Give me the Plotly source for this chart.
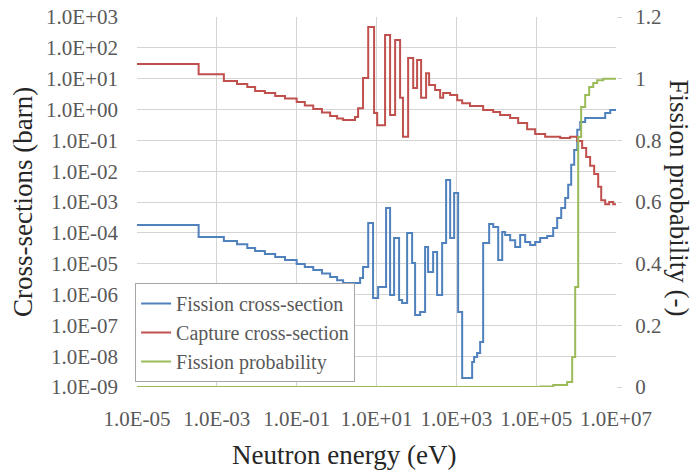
import plotly.graph_objects as go

# ---------------- data ----------------
x_tick_vals = [1e-5, 1e-3, 1e-1, 1e1, 1e3, 1e5, 1e7]
x_tick_text = ["1.0E-05", "1.0E-03", "1.0E-01", "1.0E+01", "1.0E+03", "1.0E+05", "1.0E+07"]
y_tick_exps = list(range(-9, 4))
y_tick_vals = [10.0 ** e for e in y_tick_exps]
y_tick_text = [f"1.0E{e:+03d}" for e in y_tick_exps]
y2_tick_vals = [0, 0.2, 0.4, 0.6, 0.8, 1.0, 1.2]
y2_tick_text = ["0", "0.2", "0.4", "0.6", "0.8", "1", "1.2"]

# group boundaries (eV) and group values
capture_edges = [1e-5, 3.5e-4, 1.5e-3, 3.2e-3, 5.8e-3, 9.1e-3, 1.6e-2, 2.9e-2, 5.1e-2, 0.1,
                 0.16, 0.26, 0.43, 0.69, 1.03, 1.46, 2.9, 3.46, 4.6, 6.2,
                 8.7, 10.4, 16.4, 21.9, 29.3, 39, 46, 62, 83, 104,
                 131, 175, 208, 294, 393, 467, 700, 1050, 1400, 2200,
                 4700, 8400, 12500, 22300, 35400, 59400, 94400, 1.68e5, 4.0e5, 7.1e5,
                 1.07e6, 1.42e6, 1.79e6, 2.25e6, 2.84e6, 3.58e6, 4.26e6, 5.36e6, 6.76e6, 8.5e6, 1e7]
capture_xs = [30, 14, 8.4, 6.7, 5.4, 4.0, 3.43, 2.74, 2.27, 1.75,
              1.35, 1.04, 0.80, 0.615, 0.51, 0.46, 0.57, 1.1, 10.5, 474,
              0.77, 0.31, 260, 0.66, 180, 2.4, 0.13, 47, 5.0, 40,
              2.4, 15, 6.2, 4.3, 2.4, 3.4, 2.95, 2.0, 1.6, 1.3,
              0.96, 0.83, 0.66, 0.53, 0.365, 0.23, 0.16, 0.13, 0.12, 0.13,
              0.095, 0.056, 0.029, 0.015, 0.0081, 0.0031, 0.00115, 0.00085, 0.001, 0.00085]

fission_edges = [1e-5, 3.5e-4, 1.5e-3, 3.2e-3, 5.8e-3, 9.1e-3, 1.6e-2, 2.9e-2, 5.1e-2, 0.1,
                 0.16, 0.26, 0.43, 0.69, 1.03, 1.46, 3.88, 4.6, 6.2, 8.2,
                 11.0, 17.4, 21.9, 27.6, 36.8, 43.8, 58.5, 78, 92.7, 124,
                 165, 196, 262, 330, 441, 555, 700, 881, 1110, 1400,
                 2490, 2790, 3320, 3950, 4700, 6640, 8400, 11200, 14100, 16700,
                 22300, 29800, 39700, 53000, 70800, 94400, 1.26e5, 1.89e5, 2.67e5, 3.36e5,
                 4.24e5, 5.33e5, 6.34e5, 7.54e5, 8.96e5, 1.07e6, 1.27e6, 1.69e6, 5.36e6, 7.16e6, 1e7]
fission_xs = [1.8e-4, 7.3e-5, 5.4e-5, 4.3e-5, 3.2e-5, 2.57e-5, 2.06e-5, 1.64e-5, 1.31e-5, 9.7e-6,
              7.8e-6, 6.2e-6, 4.8e-6, 3.7e-6, 2.9e-6, 2.35e-6, 3.4e-6, 7.8e-6, 2.1e-4, 7.7e-7,
              1.75e-6, 6.4e-4, 9.6e-7, 6.8e-5, 6.6e-7, 5.3e-7, 9.9e-5, 1.05e-5, 2.16e-7, 2.7e-7,
              3.5e-5, 5.4e-6, 2.4e-5, 9.6e-7, 4.7e-5, 5.2e-3, 6.8e-5, 1.95e-3, 2.7e-7, 1.95e-9,
              6.5e-9, 9.4e-9, 1.26e-8, 2.9e-8, 4.7e-5, 1.93e-4, 1.55e-4, 1.31e-5, 1.06e-4, 8.5e-5,
              5.8e-5, 3.5e-5, 8.5e-5, 5.0e-5, 4.0e-5, 5.0e-5, 6.8e-5, 7.9e-5, 1.43e-4, 3.0e-4,
              6.4e-4, 1.35e-3, 3.6e-3, 1.6e-2, 4.9e-2, 0.22, 0.39, 0.53, 0.77, 0.96]

prob_edges = [1e-5, 1.26e5, 2.67e5, 5.98e5, 7.98e5, 9.5e5, 1.13e6, 1.34e6, 1.69e6,
              2.13e6, 2.69e6, 3.38e6, 4.78e6, 1e7]
fission_prob = [0, 0.002, 0.0065, 0.016, 0.097, 0.324, 0.811, 0.908, 0.947,
                0.973, 0.986, 0.995, 1.0]

names = ["Fission cross-section", "Capture cross-section", "Fission probability"]
colors = ["#4F81BD", "#C0504D", "#9BBB59"]


def step_xy(edges, vals):
    n = min(len(edges) - 1, len(vals))
    return list(edges[: n + 1]), list(vals[:n]) + [vals[n - 1]]


FONT = "'Liberation Serif', 'Times New Roman', Times, serif"
fig = go.Figure()
for (edges, vals, axis), name, col in zip(
        [(fission_edges, fission_xs, "y"), (capture_edges, capture_xs, "y"), (prob_edges, fission_prob, "y2")],
        names, colors):
    xs, ys = step_xy(edges, vals)
    fig.add_trace(go.Scatter(x=xs, y=ys, name=name, yaxis=axis, mode="lines",
                             line=dict(color=col, width=2, shape="hv")))

tickfont = dict(family=FONT, size=21, color="#595959")
fig.update_layout(
    width=694, height=472,
    font=dict(family=FONT),
    margin=dict(l=137, r=78, t=17, b=85, pad=0, autoexpand=False),
    paper_bgcolor="white", plot_bgcolor="white",
    xaxis=dict(type="log", range=[-5, 7], tickvals=x_tick_vals, ticktext=x_tick_text,
               showgrid=True, gridcolor="#d4d4d4", gridwidth=1, zeroline=False, showline=False,
               ticks="", tickfont=tickfont, ticklabelstandoff=17, automargin=False,
               ticklabeloverflow="allow"),
    yaxis=dict(type="log", range=[-9, 3], tickvals=y_tick_vals, ticktext=y_tick_text,
               showgrid=True, gridcolor="#d4d4d4", gridwidth=1, zeroline=False, showline=False,
               ticks="", tickfont=tickfont, ticklabelstandoff=18, automargin=False,
               ticklabeloverflow="allow"),
    yaxis2=dict(overlaying="y", side="right", range=[0, 1.2], tickvals=y2_tick_vals,
                ticktext=y2_tick_text, showgrid=False, zeroline=False, showline=False,
                ticks="outside", ticklen=5, tickcolor="#d4d4d4", tickfont=tickfont,
                ticklabelstandoff=9, automargin=False, ticklabeloverflow="allow"),
    legend=dict(x=-0.004, y=0.0135, xanchor="left", yanchor="bottom", bgcolor="white",
                bordercolor="#a6a6a6", borderwidth=1,
                font=dict(family=FONT, size=20, color="#595959"), tracegroupgap=0),
    showlegend=True,
    annotations=[
        dict(text="Neutron energy (eV)", xref="paper", yref="paper", x=0.432, y=-0.184,
             showarrow=False, font=dict(family=FONT, size=27, color="#262626"),
             xanchor="center", yanchor="middle"),
        dict(text="Cross-sections (barn)", xref="paper", yref="paper", x=-0.238, y=0.5,
             showarrow=False, textangle=-90, font=dict(family=FONT, size=27, color="#262626"),
             xanchor="center", yanchor="middle"),
        dict(text="Fission probability (-)", xref="paper", yref="paper", x=1.131, y=0.51,
             showarrow=False, textangle=90, font=dict(family=FONT, size=27, color="#262626"),
             xanchor="center", yanchor="middle"),
    ],
)

# remove the browser's default 8 px body margin so the figure fills the window
fig.write_html("out.html", config={"displayModeBar": False},
               post_script="document.body.style.margin='0';")
